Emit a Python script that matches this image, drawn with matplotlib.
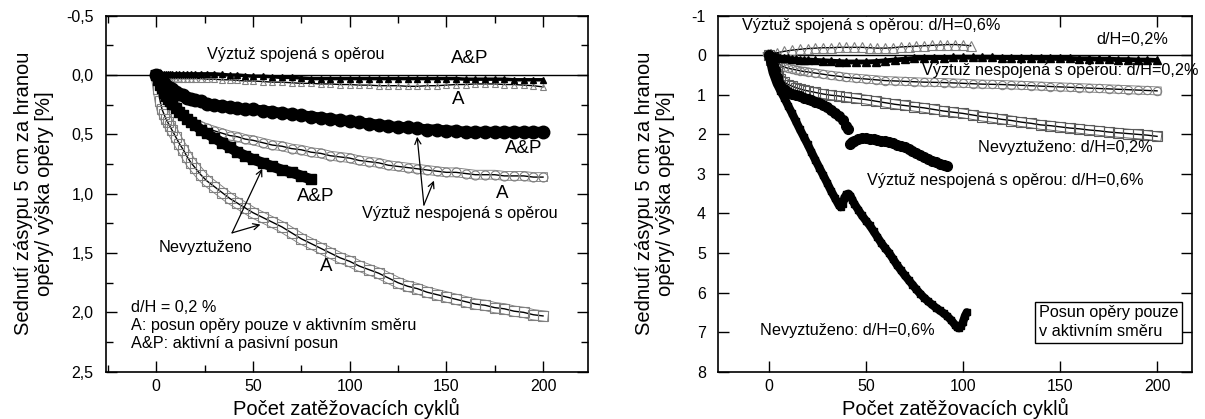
import matplotlib
matplotlib.use("Agg")
import matplotlib.pyplot as plt
import matplotlib.patheffects as pe
from matplotlib.ticker import MultipleLocator, FuncFormatter

plt.rcParams['font.family'] = ['Liberation Sans', 'DejaVu Sans']

# ---------------- data: left panel (d/H = 0,2 %) ----------------
cyc_left = [0, 1, 2, 3, 4, 5, 6, 7, 8, 10, 12, 14, 16, 18, 20, 23, 26,
            30, 34, 38, 42, 46, 50, 55, 60, 65, 70, 75, 80, 85, 90, 95,
            100, 105, 110, 115, 120, 125, 130, 135, 140, 145, 150, 155,
            160, 165, 170, 175, 180, 185, 190, 195, 200]

# unreinforced, active only (A)
nevyz_A = [0, 0.12, 0.22, 0.29, 0.33, 0.37, 0.40, 0.43, 0.46, 0.52, 0.58,
           0.63, 0.69, 0.74, 0.78, 0.84, 0.89, 0.94, 0.99, 1.04, 1.08,
           1.12, 1.16, 1.20, 1.24, 1.28, 1.33, 1.38, 1.42, 1.46, 1.50,
           1.54, 1.57, 1.61, 1.64, 1.67, 1.71, 1.75, 1.78, 1.80, 1.83,
           1.85, 1.87, 1.89, 1.91, 1.93, 1.94, 1.96, 1.97, 1.99, 2.00,
           2.02, 2.03]

# unreinforced, active + passive (A&P), only 80 cycles
cyc_nevyz_AP = [0, 1, 2, 3, 4, 5, 6, 7, 8, 10, 12, 14, 16, 18, 20, 23, 26,
                30, 34, 38, 42, 46, 50, 55, 60, 65, 70, 75, 80]
nevyz_AP = [0, 0.04, 0.08, 0.11, 0.15, 0.18, 0.20, 0.22, 0.24, 0.28, 0.31,
            0.34, 0.37, 0.40, 0.42, 0.46, 0.49, 0.53, 0.57, 0.61, 0.65,
            0.68, 0.71, 0.74, 0.77, 0.80, 0.82, 0.85, 0.88]

# reinforcement not connected to the abutment (A, A&P)
nespoj_A = [0, 0.04, 0.07, 0.10, 0.13, 0.16, 0.18, 0.20, 0.22, 0.26, 0.30,
            0.34, 0.37, 0.39, 0.41, 0.43, 0.45, 0.47, 0.49, 0.51, 0.52,
            0.54, 0.55, 0.57, 0.59, 0.60, 0.62, 0.63, 0.65, 0.66, 0.68,
            0.69, 0.70, 0.72, 0.73, 0.74, 0.76, 0.77, 0.78, 0.79, 0.80,
            0.81, 0.82, 0.82, 0.83, 0.84, 0.84, 0.84, 0.85, 0.85, 0.85,
            0.86, 0.86]
nespoj_AP = [0, 0.02, 0.04, 0.06, 0.07, 0.09, 0.10, 0.11, 0.12, 0.14, 0.16,
             0.17, 0.19, 0.20, 0.21, 0.22, 0.24, 0.25, 0.26, 0.27, 0.28,
             0.29, 0.29, 0.30, 0.31, 0.32, 0.33, 0.34, 0.35, 0.36, 0.37,
             0.38, 0.39, 0.40, 0.41, 0.42, 0.43, 0.44, 0.44, 0.45, 0.46,
             0.46, 0.47, 0.47, 0.48, 0.48, 0.48, 0.48, 0.48, 0.48, 0.48,
             0.48, 0.48]

# reinforcement connected to the abutment (A&P, A)
spoj_AP = [0, -0.005, -0.01, -0.01, -0.01, -0.01, -0.01, -0.01, -0.01,
           -0.01, -0.01, -0.01, -0.01, -0.01, -0.01, -0.01, -0.01, -0.01,
           -0.005, 0, 0, 0.005, 0.01, 0.01, 0.015, 0.02, 0.02, 0.025, 0.03,
           0.03, 0.03, 0.03, 0.03, 0.03, 0.03, 0.03, 0.03, 0.03, 0.03, 0.03,
           0.03, 0.03, 0.03, 0.03, 0.035, 0.035, 0.035, 0.035, 0.035, 0.04,
           0.04, 0.04, 0.04]
spoj_A = [0, 0.01, 0.015, 0.02, 0.02, 0.025, 0.025, 0.03, 0.03, 0.03, 0.03,
          0.03, 0.03, 0.03, 0.03, 0.03, 0.035, 0.035, 0.04, 0.04, 0.045,
          0.05, 0.05, 0.055, 0.06, 0.06, 0.065, 0.07, 0.07, 0.075, 0.075,
          0.08, 0.08, 0.085, 0.085, 0.09, 0.09, 0.09, 0.095, 0.095, 0.09,
          0.09, 0.085, 0.08, 0.08, 0.075, 0.075, 0.075, 0.08, 0.08, 0.085,
          0.09, 0.10]

# ---------------- data: right panel (active direction only) ----------------
cyc_right = [0, 1, 2, 3, 4, 5, 6, 8, 10, 12, 14, 16, 18, 20, 24, 28, 32, 36,
             40, 45, 50, 55, 60, 65, 70, 75, 80, 85, 90, 95, 100, 105, 110,
             115, 120, 125, 130, 135, 140, 145, 150, 155, 160, 165, 170, 175,
             180, 185, 190, 195, 200]

spoj_02 = [0, 0.01, 0.02, 0.03, 0.04, 0.05, 0.06, 0.07, 0.08, 0.09, 0.10,
           0.11, 0.12, 0.12, 0.13, 0.14, 0.15, 0.16, 0.17, 0.17, 0.17, 0.16,
           0.14, 0.12, 0.10, 0.08, 0.07, 0.06, 0.06, 0.05, 0.05, 0.05, 0.05,
           0.05, 0.06, 0.06, 0.06, 0.07, 0.07, 0.08, 0.08, 0.08, 0.09, 0.09,
           0.10, 0.10, 0.11, 0.11, 0.12, 0.12, 0.13]
nespoj_02 = [0, 0.04, 0.08, 0.12, 0.16, 0.20, 0.24, 0.30, 0.33, 0.35, 0.37,
             0.39, 0.41, 0.42, 0.45, 0.48, 0.51, 0.53, 0.56, 0.58, 0.60,
             0.62, 0.64, 0.65, 0.66, 0.67, 0.68, 0.685, 0.69, 0.70, 0.71,
             0.72, 0.73, 0.735, 0.74, 0.75, 0.76, 0.77, 0.78, 0.79, 0.80,
             0.81, 0.82, 0.83, 0.84, 0.85, 0.86, 0.87, 0.88, 0.89, 0.90]
nevyz_02 = [0, 0.12, 0.24, 0.34, 0.43, 0.52, 0.60, 0.68, 0.74, 0.78, 0.82,
            0.85, 0.88, 0.90, 0.94, 0.98, 1.01, 1.03, 1.06, 1.09, 1.12,
            1.16, 1.20, 1.24, 1.27, 1.30, 1.33, 1.37, 1.41, 1.44, 1.47,
            1.51, 1.55, 1.58, 1.62, 1.65, 1.69, 1.72, 1.76, 1.78, 1.81,
            1.84, 1.86, 1.89, 1.91, 1.94, 1.96, 1.98, 2.00, 2.02, 2.05]

cyc_spoj_06 = [0, 4, 8, 12, 16, 20, 24, 28, 32, 36, 40, 44, 48, 52, 56, 60,
               64, 68, 72, 76, 80, 84, 88, 92, 96, 100, 104]
spoj_06 = [0, -0.06, -0.10, -0.13, -0.15, -0.17, -0.18, -0.19, -0.19, -0.20,
           -0.20, -0.20, -0.20, -0.19, -0.18, -0.18, -0.19, -0.21, -0.22,
           -0.23, -0.24, -0.25, -0.26, -0.27, -0.27, -0.26, -0.24]

# not connected, d/H = 0,6 % -- two recorded stretches
cyc_nespoj_06a = [0, 1, 2, 3, 4, 5, 6, 8, 10, 12, 14, 16, 18, 20, 22, 24,
                  26, 28, 30, 32, 34, 36, 38, 40, 41]
nespoj_06a = [0, 0.12, 0.25, 0.38, 0.55, 0.68, 0.76, 0.85, 0.92, 0.97, 1.01,
              1.04, 1.07, 1.10, 1.13, 1.17, 1.21, 1.26, 1.32, 1.38, 1.45,
              1.53, 1.63, 1.78, 1.86]
cyc_nespoj_06b = [42, 43, 44, 46, 48, 50, 52, 54, 56, 58, 60, 62, 64, 66, 68,
                  70, 72, 74, 76, 78, 80, 82, 84, 86, 88, 90, 92]
nespoj_06b = [2.25, 2.20, 2.16, 2.12, 2.10, 2.10, 2.11, 2.12, 2.14, 2.16,
              2.18, 2.20, 2.23, 2.26, 2.29, 2.32, 2.36, 2.41, 2.46, 2.52,
              2.57, 2.62, 2.67, 2.71, 2.74, 2.77, 2.79]

cyc_nevyz_06 = [0, 2, 4, 6, 8, 10, 12, 14, 16, 18, 20, 22, 24, 26, 28, 30, 32,
                34, 36, 37, 38, 39, 40, 41, 42, 43, 44, 46, 48, 50, 52, 54,
                56, 58, 60, 62, 64, 66, 68, 70, 72, 74, 76, 78, 80, 82, 84,
                86, 88, 90, 92, 94, 96, 97, 98, 99, 100, 101, 102]
nevyz_06 = [0, 0.43, 0.70, 0.90, 1.08, 1.28, 1.47, 1.67, 1.87, 2.06, 2.25,
            2.45, 2.65, 2.84, 3.03, 3.22, 3.42, 3.60, 3.78, 3.84, 3.76, 3.60,
            3.52, 3.50, 3.55, 3.65, 3.75, 3.90, 4.05, 4.18, 4.30, 4.45, 4.60,
            4.75, 4.88, 5.00, 5.15, 5.30, 5.43, 5.56, 5.68, 5.80, 5.92, 6.03,
            6.13, 6.22, 6.30, 6.38, 6.45, 6.52, 6.60, 6.70, 6.82, 6.88, 6.90,
            6.85, 6.75, 6.60, 6.50]

GREY = '#808080'
DARKGREY = '#5a5a5a'
XLABEL = 'Počet zatěžovacích cyklů'
YLABEL = 'Sednutí zásypu 5 cm za hranou\nopěry/ výška opěry [%]'
LABEL_FS = 14.5
NOTE_FS = 11.7
TAG_FS = 13.5

fig = plt.figure(figsize=(12.05, 4.19), dpi=100)
W, H = 1205.0, 419.0


def px_rect(left, right, top, bottom):
    return [left / W, 1 - bottom / H, (right - left) / W, (bottom - top) / H]


def open_series(ax, x, y, marker, ms, edge, band):
    """Open grey markers with a black line through them, drawn over a
    grey-edged band that follows the same points."""
    if band:
        ax.plot(x, y, color='white', lw=band - 1.3, solid_joinstyle='round',
                path_effects=[pe.Stroke(linewidth=band, foreground=edge),
                              pe.Normal()], zorder=2)
    ax.plot(x, y, color='black', lw=1.0, marker=marker, ms=ms, mfc='none',
            mec=edge, mew=0.8, zorder=3)


def solid_series(ax, x, y, marker, ms, lw):
    ax.plot(x, y, color='black', lw=lw, marker=marker, ms=ms, mfc='black',
            mec='black', solid_capstyle='round', zorder=4)


axL = fig.add_axes(px_rect(106, 587.5, 15.7, 371.7))
axR = fig.add_axes(px_rect(718.3, 1192, 15.7, 371.7))

for ax in (axL, axR):
    for s in ax.spines.values():
        s.set_linewidth(1.2)
    ax.tick_params(which='both', direction='in', top=True, right=True,
                   labelsize=11.5, width=1.0)
    ax.tick_params(axis='x', which='both', pad=5)
    ax.tick_params(axis='y', which='both', pad=9)
    ax.tick_params(which='major', length=8)
    ax.tick_params(which='minor', length=5)
    ax.axhline(0, color='black', lw=1.0, zorder=1)
    ax.set_xlabel(XLABEL, fontsize=LABEL_FS, labelpad=3)
    ax.set_ylabel(YLABEL, fontsize=LABEL_FS, linespacing=1.1)

# ---------- left panel ----------
open_series(axL, cyc_left, nevyz_A, 's', 7.5, GREY, 8.0)
open_series(axL, cyc_left, nespoj_A, 'o', 6.5, GREY, 7.0)
open_series(axL, cyc_left, spoj_A, '^', 5.0, GREY, 0)
solid_series(axL, cyc_nevyz_AP, nevyz_AP, 's', 7.0, 7.5)
solid_series(axL, cyc_left, nespoj_AP, 'o', 9.0, 7.5)
solid_series(axL, cyc_left, spoj_AP, '^', 5.0, 2.5)

axL.set_xlim(-26, 223)
axL.set_ylim(2.5, -0.5)
axL.xaxis.set_major_locator(MultipleLocator(50))
axL.xaxis.set_minor_locator(MultipleLocator(25))
axL.yaxis.set_major_locator(MultipleLocator(0.5))
axL.yaxis.set_minor_locator(MultipleLocator(0.25))
axL.yaxis.set_major_formatter(
    FuncFormatter(lambda v, p: f'{v:.1f}'.replace('.', ',')))
axL.yaxis.set_label_coords(-0.108, 0.5)

big = dict(fontsize=TAG_FS, ha='center', va='center')
small = dict(fontsize=NOTE_FS, ha='center', va='center')
axL.text(72, -0.17, 'Výztuž spojená s opěrou', **small)
axL.text(162, -0.14, 'A&P', **big)
axL.text(156, 0.21, 'A', **big)
axL.text(190, 0.62, 'A&P', **big)
axL.text(179, 1.0, 'A', **big)
axL.text(82.6, 1.02, 'A&P', **big)
axL.text(157, 1.165, 'Výztuž nespojená s opěrou', **small)
axL.text(25.7, 1.45, 'Nevyztuženo', **small)
axL.text(88, 1.61, 'A', **big)
axL.text(-13, 2.11, 'd/H = 0,2 %\nA: posun opěry pouze v aktivním směru\n'
          'A&P: aktivní a pasivní posun', fontsize=NOTE_FS, ha='left',
          va='center', linespacing=1.25)

arrow = dict(arrowstyle='->', color='black', lw=0.9, shrinkA=0, shrinkB=0,
             mutation_scale=11)
for tip in [(54.8, 0.79), (53.9, 1.26)]:
    axL.annotate('', xy=tip, xytext=(39.2, 1.33), arrowprops=arrow)
for tip in [(134.9, 0.52), (143.6, 0.89)]:
    axL.annotate('', xy=tip, xytext=(138.4, 1.095), arrowprops=arrow)

# ---------- right panel ----------
open_series(axR, cyc_spoj_06, spoj_06, '^', 7.0, GREY, 0)
open_series(axR, cyc_right, nespoj_02, 'o', 6.0, GREY, 6.4)
open_series(axR, cyc_right, nevyz_02, 's', 6.5, DARKGREY, 7.0)
solid_series(axR, cyc_right, spoj_02, '^', 6.0, 3.5)
solid_series(axR, cyc_nespoj_06a, nespoj_06a, 'o', 7.0, 5.5)
solid_series(axR, cyc_nespoj_06b, nespoj_06b, 'o', 7.0, 5.5)
solid_series(axR, cyc_nevyz_06, nevyz_06, 's', 5.0, 6.0)

axR.set_xlim(-26, 218)
axR.set_ylim(8, -1)
axR.xaxis.set_major_locator(MultipleLocator(50))
axR.yaxis.set_major_locator(MultipleLocator(1))
axR.yaxis.set_major_formatter(FuncFormatter(lambda v, p: f'{v:.0f}'))
axR.yaxis.set_label_coords(-0.092, 0.5)

lbl = dict(fontsize=NOTE_FS, ha='left', va='center')
axR.text(-13.7, -0.74, 'Výztuž spojená s opěrou: d/H=0,6%',
         bbox=dict(fc='white', ec='none', pad=1), zorder=5, **lbl)
axR.text(187.5, -0.41, 'd/H=0,2%', fontsize=NOTE_FS, ha='center',
         va='center')
axR.text(79, 0.39, 'Výztuž nespojená s opěrou: d/H=0,2%', **lbl)
axR.text(108, 2.33, 'Nevyztuženo: d/H=0,2%', **lbl)
axR.text(50.4, 3.17, 'Výztuž nespojená s opěrou: d/H=0,6%', **lbl)
axR.text(-4.3, 6.97, 'Nevyztuženo: d/H=0,6%', **lbl)
axR.text(139.0, 6.75, 'Posun opěry pouze\nv aktivním směru',
         fontsize=NOTE_FS, ha='left', va='center', linespacing=1.35,
         bbox=dict(boxstyle='square,pad=0.22', fc='white', ec='black',
                   lw=1.0))

fig.savefig('out.png', dpi=100)
